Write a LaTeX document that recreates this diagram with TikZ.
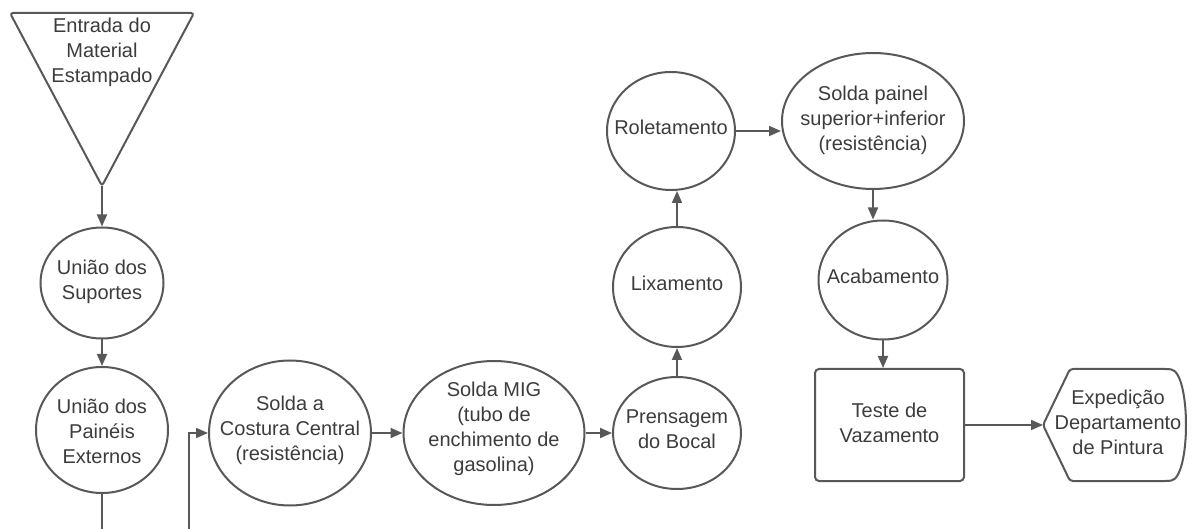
\documentclass[tikz,border=0pt]{standalone}
\usepackage{fontspec}
\setmainfont{Liberation Sans}
\usetikzlibrary{shapes.geometric,arrows.meta}
\definecolor{edge}{RGB}{88,88,88}
\definecolor{ink}{RGB}{60,60,60}
\tikzset{
  proc/.style 2 args={ellipse, draw=edge, line width=2pt, minimum width=#1pt, minimum height=#2pt, inner sep=0pt},
  txt/.style={text=ink, align=center, font=\fontsize{20pt}{25pt}\selectfont, inner sep=0pt},
  flow/.style={draw=edge, line width=1.8pt, -{Triangle[length=12pt,width=10pt]}},
  wire/.style={draw=edge, line width=1.8pt},
}
\begin{document}
\begin{tikzpicture}[x=1pt,y=-1pt]
\useasboundingbox (0,0) rectangle (1192,529);

% incoming material (inverted triangle)
\draw[edge, line width=2pt, rounded corners=3pt] (10,13) -- (194,13) -- (102,186) -- cycle;
\coordinate (tri) at (102,186);
\node[txt] (tritxt) at (102,52) {Entrada do\\Material\\Estampado};

% process steps
\node[proc={123}{111}] (sup) at (102,283) {};
\node[txt] (suptxt) at (102,282) {União dos\\Suportes};

\node[proc={132}{126}] (pai) at (102,430) {};
\node[txt] (paitxt) at (102,431) {União dos\\Painéis\\Externos};

\node[proc={162}{145}] (cos) at (290,433) {};
\node[txt] (costxt) at (290,430) {Solda a\\Costura Central\\(resistência)};

\node[proc={181}{144}] (mig) at (494,433) {};
\node[txt] (migtxt) at (494,429) {Solda MIG\\(tubo de\\enchimento de\\gasolina)};

\node[proc={128}{112}] (pre) at (677,433) {};
\node[txt] (pretxt) at (677,429) {Prensagem\\do Bocal};

\node[proc={128}{120}] (lix) at (677,287) {};
\node[txt] (lixtxt) at (677,283) {Lixamento};

\node[proc={128}{118}] (rol) at (671,131) {};
\node[txt] (roltxt) at (671,127) {Roletamento};

\node[proc={182}{136}] (spa) at (873,121) {};
\node[txt] (spatxt) at (873,120) {Solda painel\\superior+inferior\\(resistência)};

\node[proc={129}{119}] (aca) at (883,280) {};
\node[txt] (acatxt) at (883,276) {Acabamento};

\node[draw=edge, line width=2pt, rounded corners=4pt, minimum width=149pt, minimum height=112pt, inner sep=0pt] (tes) at (889.5,425) {};
\node[txt] (testxt) at (889.5,423) {Teste de\\Vazamento};

% shipping (display shape)
\draw[edge, line width=2pt, rounded corners=3pt] (1043,425) -- (1070,369) -- (1168,369)
  .. controls (1191,372) and (1191,478) .. (1168,481) -- (1070,481) -- cycle;
\coordinate (exp) at (1043,425);
\node[txt] (exptxt) at (1118,422) {Expedição\\Departamento\\de Pintura};

% connectors
\coordinate (outA) at (102,529);
\coordinate (inA) at (189,529);
\draw[flow] (tri) -- (sup.north);
\draw[flow] (sup.south) -- (pai.north);
\draw[wire] (pai.south) -- (outA);
\draw[flow] (inA) -- (inA |- cos.west) -- (cos.west);
\draw[flow] (cos.east) -- (mig.west);
\draw[flow] (mig.east) -- (pre.west);
\draw[flow] (pre.north) -- (lix.south);
\draw[flow] (lix.north) -- (lix.north |- rol.south);
\draw[flow] (rol.east) -- (rol.east -| spa.west);
\draw[flow] (spa.south) -- (spa.south |- aca.north);
\draw[flow] (aca.south) -- (aca.south |- tes.north);
\draw[flow] (tes.east) -- (exp);
\end{tikzpicture}
\end{document}
